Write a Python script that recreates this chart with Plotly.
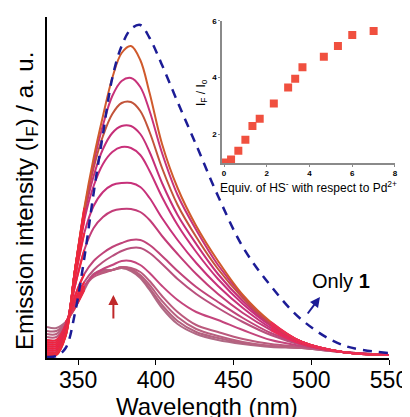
import plotly.graph_objects as go

# emission spectra (a.u.), one list per HS- addition
wl = [330, 336, 342, 348, 354, 360, 366, 372, 378, 384, 390, 396, 404, 414, 426, 440, 456, 474, 494, 520, 550]

spec01 = [31, 30, 36, 50, 68, 84, 88, 88, 90, 87, 80, 68, 50, 34, 24, 18, 14, 11, 10, 6, 3]
spec02 = [27, 27, 35, 52, 70, 84, 87, 88, 90, 88, 81, 70, 53, 37, 26, 20, 15, 12, 10, 6, 3]
spec03 = [24, 24, 35, 54, 71, 83, 86, 88, 91, 89, 83, 73, 57, 41, 29, 22, 16, 12, 10, 6, 3]
spec04 = [21, 21, 34, 55, 71, 81, 85, 88, 91, 90, 86, 77, 62, 46, 33, 26, 19, 14, 11, 6, 3]
spec05 = [18, 18, 33, 56, 72, 83, 89, 93, 97, 97, 93, 85, 72, 58, 46, 38, 28, 18, 12, 6, 3]
spec06 = [16, 16, 33, 58, 76, 88, 96, 102, 107, 110, 110, 105, 94, 79, 64, 50, 36, 23, 13, 6, 3]
spec07 = [14, 14, 32, 62, 84, 97, 105, 111, 115, 118, 118, 113, 102, 87, 71, 56, 40, 25, 14, 6, 3]
spec08 = [12, 12, 30, 72, 108, 130, 141, 147, 149, 149, 146, 138, 122, 104, 84, 64, 45, 28, 14, 6, 3]
spec09 = [10, 10, 29, 80, 125, 152, 166, 173, 175, 175, 171, 160, 140, 118, 95, 72, 50, 30, 15, 6, 3]
spec10 = [8, 8, 27, 85, 138, 172, 194, 206, 211, 210, 203, 187, 161, 133, 106, 79, 54, 32, 15, 6, 3]
spec11 = [6, 6, 26, 87, 143, 182, 209, 225, 232, 232, 224, 206, 175, 143, 114, 84, 57, 33, 16, 6, 3]
spec12 = [5, 5, 24, 88, 146, 190, 222, 244, 255, 256, 247, 226, 190, 153, 121, 89, 60, 34, 16, 6, 3]
spec13 = [4, 4, 23, 88, 148, 195, 233, 262, 277, 280, 271, 247, 205, 163, 128, 93, 62, 35, 16, 6, 3]
spec14 = [3, 3, 22, 88, 150, 200, 242, 280, 305, 312, 298, 265, 214, 170, 132, 97, 63, 36, 16, 6, 3]
only1 = [1, 2, 10, 45, 100, 165, 224, 280, 312, 329, 333, 320, 293, 256, 213, 162, 111, 72, 38, 13, 5]

spectra = [spec01, spec02, spec03, spec04, spec05, spec06, spec07,
           spec08, spec09, spec10, spec11, spec12, spec13, spec14]
colors = ['#b06a85', '#b4627f', '#b8607f', '#bb5a7d', '#c4457c', '#b9507d', '#c04479',
          '#c33c78', '#c7317a', '#c9307a', '#c62f78', '#c2543a', '#c8327a', '#d05a2c']
edge_red = '#f0243e'
tail_red = '#ee2a55'

# inset: IF/Io vs equivalents of HS-
equiv = [0, 0.33, 0.67, 1.0, 1.33, 1.67, 2.33, 3.0, 3.33, 3.67, 4.67, 5.33, 6.0, 7.0]
ratio = [1.0, 1.10, 1.41, 1.80, 2.29, 2.54, 3.08, 3.64, 3.95, 4.36, 4.73, 5.11, 5.50, 5.64]

FONT = "Liberation Sans, Arial, sans-serif"

fig = go.Figure()
for i, (s, c) in enumerate(zip(spectra, colors)):
    fig.add_trace(go.Scatter(x=wl, y=s, mode='lines', line=dict(color=c, width=2, shape='spline', smoothing=1),
                             hoverinfo='skip', showlegend=False))
    # the spectra turn red on the rising edge and in the long tail
    lo = 2 if i < 4 else 0
    fig.add_trace(go.Scatter(x=wl[lo:5], y=s[lo:5], mode='lines',
                             line=dict(color=edge_red, width=2, shape='spline', smoothing=1),
                             hoverinfo='skip', showlegend=False))
    if i >= 7:
        fig.add_trace(go.Scatter(x=wl[-4:], y=s[-4:], mode='lines',
                                 line=dict(color=tail_red, width=2, shape='spline', smoothing=1),
                                 hoverinfo='skip', showlegend=False))
fig.add_trace(go.Scatter(x=wl, y=only1, mode='lines',
                         line=dict(color='#1c1c96', width=2.5, dash='9px,7px', shape='spline', smoothing=1),
                         showlegend=False))

# inset
fig.add_trace(go.Scatter(x=equiv, y=ratio, mode='markers', xaxis='x2', yaxis='y2',
                         marker=dict(symbol='square', size=8, color='#f0503f'), showlegend=False))

fig.update_layout(
    template='none',
    width=402, height=409,
    margin=dict(l=39, r=15, t=9, b=59),
    paper_bgcolor='white', plot_bgcolor='rgba(0,0,0,0)',
    font=dict(family=FONT, color='black'),
    xaxis=dict(domain=[0, 0.9828], range=[330, 550], tickvals=[350, 400, 450, 500, 550],
               showline=True, linecolor='black', linewidth=1.5, ticks='outside', ticklen=5,
               tickcolor='black', tickfont=dict(size=23), ticklabelstandoff=-4,
               showgrid=False, zeroline=False, automargin=False),
    yaxis=dict(domain=[0, 1], range=[0, 341], showline=True, linecolor='black', linewidth=1.5,
               showticklabels=False, ticks='', showgrid=False, zeroline=False, automargin=False),
    xaxis2=dict(domain=[0.5029, 1.0], anchor='y2', range=[-0.094, 8], tickvals=[0, 2, 4, 6, 8],
                showline=True, linecolor='#8a8a8a', linewidth=1.5, ticks='outside', ticklen=2,
                tickcolor='#8a8a8a', tickfont=dict(size=8, weight='bold'), showgrid=False,
                zeroline=False, automargin=False),
    yaxis2=dict(domain=[0.5718, 0.9891], anchor='x2', range=[0.98, 6.0], tickvals=[2, 4, 6],
                showline=True, linecolor='#8a8a8a', linewidth=1.5, ticks='outside', ticklen=2,
                tickcolor='#8a8a8a', tickfont=dict(size=8, weight='bold'), showgrid=False,
                zeroline=False, automargin=False),
)

fig.add_annotation(text='Emission intensity (I<sub>F</sub>) / a. u.', xref='paper', yref='paper',
                   x=-0.0603, y=0.4604, xanchor='center', yanchor='middle', textangle=-90,
                   showarrow=False, font=dict(size=24))
fig.add_annotation(text='Wavelength (nm)', xref='paper', yref='paper', x=0.4612, y=-0.097,
                   xanchor='center', yanchor='top', showarrow=False, font=dict(size=24))
fig.add_annotation(text='I<sub>F</sub> / I<sub>o</sub>', xref='paper', yref='paper', x=0.4454, y=0.78,
                   xanchor='center', yanchor='middle', textangle=-90, showarrow=False, font=dict(size=12))
fig.add_annotation(text='Equiv. of HS<sup>-</sup> with respect to Pd<sup>2+</sup>', xref='paper', yref='paper',
                   x=0.75, y=0.5015, xanchor='center', yanchor='middle', showarrow=False, font=dict(size=12))
fig.add_annotation(text='Only <b>1</b>', x=519, y=77, xref='x', yref='y', showarrow=False, font=dict(size=20))
# arrows
fig.add_annotation(x=505.6, y=61, ax=497, ay=43, xref='x', yref='y', axref='x', ayref='y', text='',
                   showarrow=True, arrowhead=2, arrowsize=1, arrowwidth=2, arrowcolor='#1c1c96')
fig.add_annotation(x=372.7, y=63, ax=372.7, ay=38, xref='x', yref='y', axref='x', ayref='y', text='',
                   showarrow=True, arrowhead=2, arrowsize=1, arrowwidth=2, arrowcolor='#c0282a')

fig.write_html("out.html")
